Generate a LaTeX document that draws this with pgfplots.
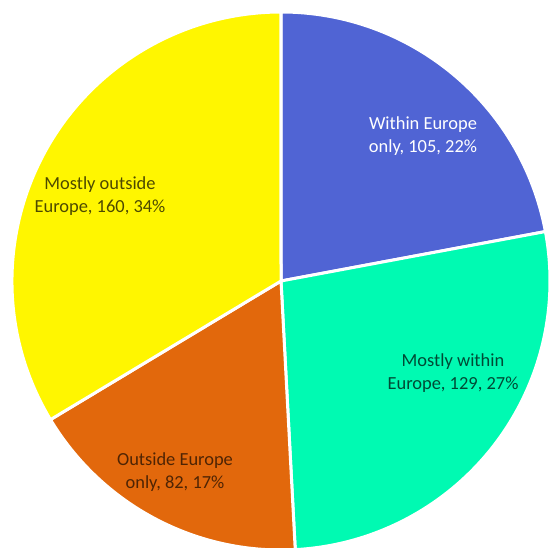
\documentclass[border=0pt]{standalone}
\usepackage{pgfplots}
\usepackage{pgfplotstable}
\pgfplotsset{compat=1.18}
\usepackage{fontspec}
\setmainfont{Carlito}
\definecolor{cA}{RGB}{80,100,212}
\definecolor{cB}{RGB}{0,250,178}
\definecolor{cC}{RGB}{226,104,12}
\definecolor{cD}{RGB}{255,246,0}
\pgfplotstableread{
label value
within 105
mostlywithin 129
outsideonly 82
mostlyoutside 160
}\piedata
\pgfplotstablegetelem{0}{value}\of\piedata\let\vA\pgfplotsretval
\pgfplotstablegetelem{1}{value}\of\piedata\let\vB\pgfplotsretval
\pgfplotstablegetelem{2}{value}\of\piedata\let\vC\pgfplotsretval
\pgfplotstablegetelem{3}{value}\of\piedata\let\vD\pgfplotsretval
\pgfmathsetmacro\tot{\vA+\vB+\vC+\vD}
\pgfmathsetmacro\aA{90}
\pgfmathsetmacro\aB{\aA-360*(\vA/\tot)}
\pgfmathsetmacro\aC{\aB-360*(\vB/\tot)}
\pgfmathsetmacro\aD{\aC-360*(\vC/\tot)}
\pgfmathsetmacro\aE{\aD-360*(\vD/\tot)}
\def\R{269}
\newcommand\sector[3]{%
  \fill[#1,draw=white,line width=3bp,line join=miter] (axis cs:0,0) -- (axis cs:{\R*cos(#2)},{\R*sin(#2)}) arc[start angle=#2,end angle=#3,radius=\R bp] -- cycle;}
\begin{document}
\begin{tikzpicture}
\begin{axis}[scale only axis,width=549bp,height=548bp,
  xmin=-281,xmax=268,ymin=-267,ymax=281,hide axis,clip=true]
\path (rel axis cs:0,0) rectangle (rel axis cs:1,1);
\sector{cA}{\aA}{\aB}
\sector{cB}{\aB}{\aC}
\sector{cC}{\aC}{\aD}
\sector{cD}{\aD}{\aE}
\begin{scope}[font=\fontsize{18.5}{23}\selectfont,align=center]
\node[text=white] at (axis cs:142,145) {Within Europe\\only, 105, 22\%};
\node[text=black,text opacity=0.7] at (axis cs:172,-92) {Mostly within\\Europe, 129, 27\%};
\node[text=black,text opacity=0.65] at (axis cs:-106,-191) {Outside Europe\\only, 82, 17\%};
\node[text=black,text opacity=0.7] at (axis cs:-181,85) {Mostly outside\\Europe, 160, 34\%};
\end{scope}
\end{axis}
\end{tikzpicture}
\end{document}
